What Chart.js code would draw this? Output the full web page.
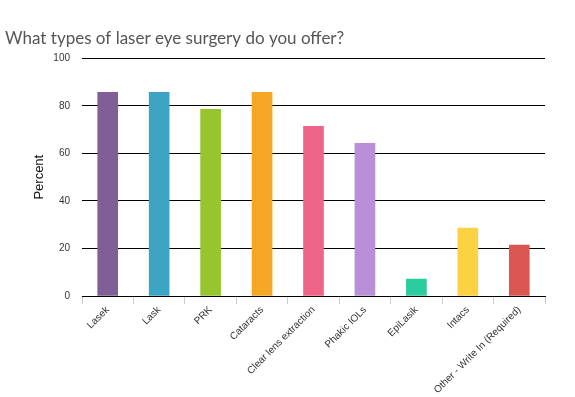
<!DOCTYPE html>
<html>
<head>
<meta charset="utf-8">
<script src="https://cdn.jsdelivr.net/npm/chart.js@4"></script>
<style>
  html, body { margin: 0; padding: 0; background: #fff; }
  #wrap { width: 575px; height: 397px; position: relative; }
</style>
</head>
<body>
<div id="wrap"><canvas id="surgeryChart"></canvas></div>
<script>
const categories = ['Lasek', 'Lask', 'PRK', 'Cataracts', 'Clear lens extraction', 'Phakic IOLs', 'EpiLasik', 'Intacs', 'Other - Write In (Required)'];
const percentValues = [85.7, 85.7, 78.6, 85.7, 71.4, 64.3, 7.1, 28.6, 21.4];
const barColors = ['#7f5f95', '#3ea4c4', '#96c52e', '#f5a623', '#ef6589', '#b98fd8', '#2bcc9e', '#fcd243', '#d95750'];
const yTicks = [0, 20, 40, 60, 80, 100];

const ctx = document.getElementById('surgeryChart').getContext('2d');
const surgeryChart = new Chart(ctx, {
    type: 'bar',
    data: {
        labels: categories,
        datasets: [{ data: percentValues, backgroundColor: barColors, barThickness: 20 }]
    },
    options: {
        responsive: true,
        maintainAspectRatio: false,
        animation: false,
        layout: { padding: { left: 5, right: 30, top: 0, bottom: 0 } },
        plugins: {
            legend: { display: false },
            tooltip: { enabled: false },
            title: {
                display: true,
                text: 'What types of laser eye surgery do you offer?',
                align: 'start',
                color: '#555',
                font: { family: 'Lato', size: 17, weight: 'normal' },
                padding: { top: 28, bottom: 10 }
            }
        },
        scales: {
            x: {
                grid: { drawOnChartArea: false, drawTicks: true, tickLength: 8, color: '#ccc' },
                border: { display: true, color: '#000' },
                ticks: {
                    color: '#333', font: { family: 'Liberation Sans', size: 10 },
                    minRotation: 45, maxRotation: 45, padding: 0
                },
                afterFit: s => { s.height = 101; }
            },
            y: {
                min: 0, max: 100,
                afterBuildTicks: s => { s.ticks = yTicks.map(v => ({ value: v })); },
                grid: { color: '#000', lineWidth: 1, drawTicks: false },
                border: { display: false },
                ticks: { color: '#333', font: { family: 'Liberation Sans', size: 10 }, padding: 12 },
                title: { display: true, text: 'Percent', color: '#111', font: { family: 'Liberation Sans', size: 13 }, padding: { top: 27, bottom: 6 } },
                afterFit: s => { s.width = 77; }
            }
        }
    }
});
</script>
</body>
</html>
